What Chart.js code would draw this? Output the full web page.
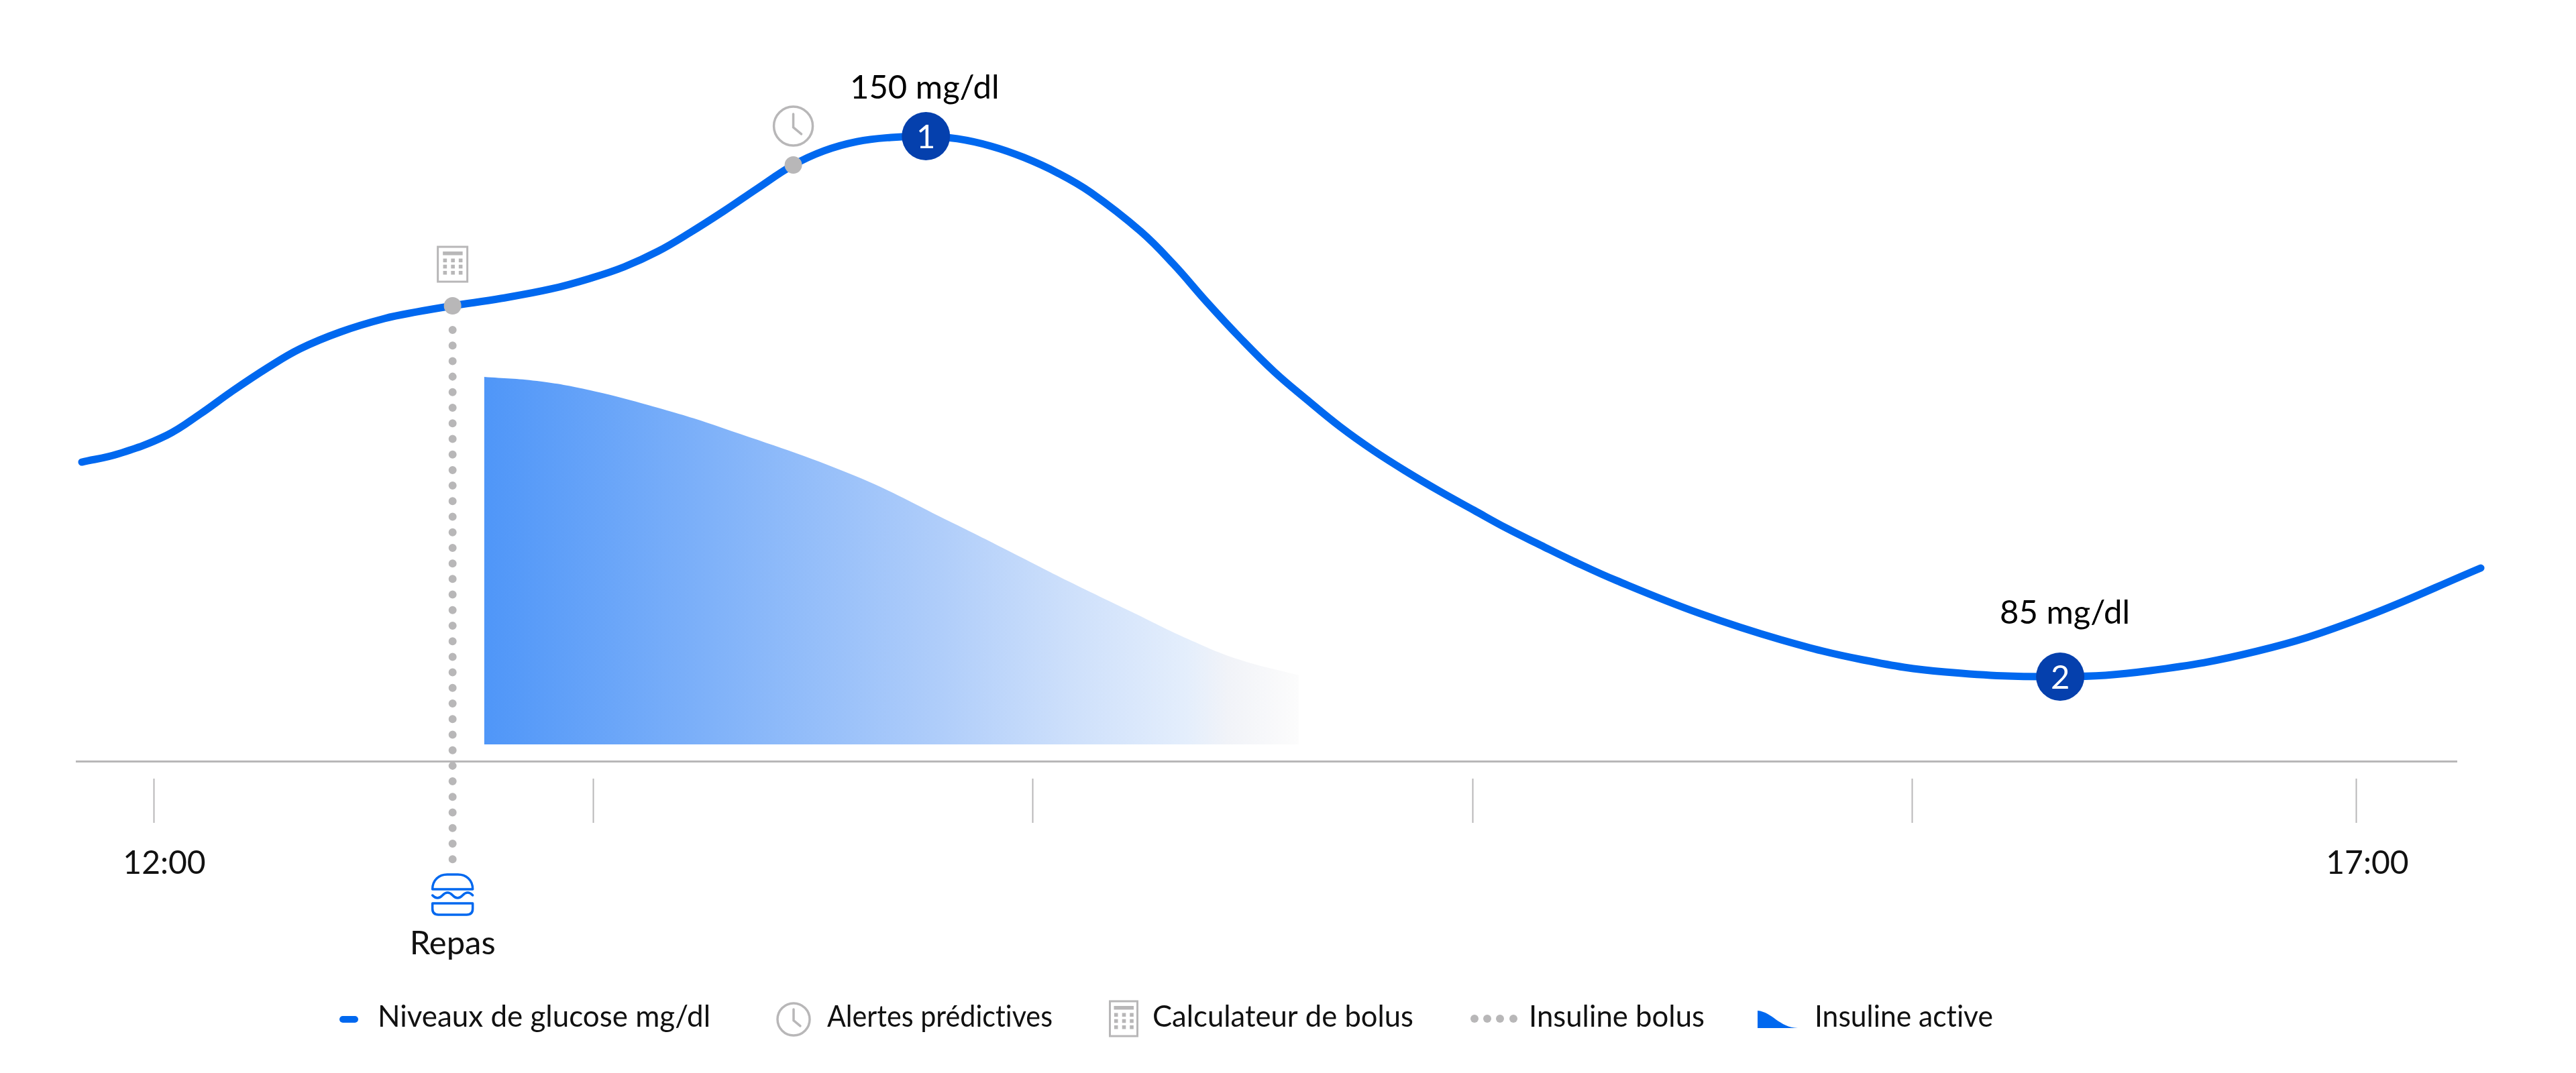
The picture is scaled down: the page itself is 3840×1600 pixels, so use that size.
<!DOCTYPE html>
<html lang="fr">
<head>
<meta charset="UTF-8">
<title>Niveaux de glucose</title>
<style>
    html, body { margin: 0; padding: 0; background: #fff; }
    canvas { display: block; }
</style>
<script src="https://cdn.jsdelivr.net/npm/chart.js"></script>
</head>
<body>
<canvas id="chart" width="3840" height="1600"></canvas>
<script>
// minutes depuis 12:00 / mg/dl
const glucoseTimes = [-9.8, -4.9, 1.8, 6.4, 10.5, 15.6, 20.0, 25.5, 31.5, 36.0, 40.8, 47.4, 54.2, 59.6, 64.2, 68.8, 73.2, 77.8, 82.4, 87.3, 91.5, 96.0, 100.6, 105.4, 109.7, 114.3, 118.8, 123.4, 127.9, 134.7, 139.2, 143.7, 148.3, 152.9, 157.4, 162.0, 166.5, 171.1, 175.6, 180.2, 184.7, 189.3, 193.8, 199.7, 210.8, 222.1, 233.3, 244.5, 260.2, 272.5, 287.1, 300.6, 317.6];
const glucoseValues = [110.80, 111.77, 114.03, 116.61, 119.19, 122.17, 124.43, 126.45, 128.06, 128.87, 129.59, 130.48, 131.61, 132.90, 134.27, 136.13, 138.39, 140.97, 143.71, 146.53, 148.24, 149.35, 149.84, 150, 149.68, 148.79, 147.42, 145.56, 143.22, 138.55, 134.59, 130.08, 125.72, 121.69, 118.30, 115.0, 112.17, 109.59, 107.25, 105.0, 102.82, 100.80, 98.87, 96.53, 92.66, 89.43, 87.01, 85.56, 85.00, 85.72, 88.06, 91.77, 98.06];

const insulinTimes = [45.1, 52.3, 59.6, 68.8, 77.6, 95.6, 109.1, 117.0, 124.9, 133.4, 141.2, 148.0, 156.3];
const insulinValues = [121.05, 120.56, 119.43, 117.33, 114.92, 109.19, 103.46, 99.98, 96.45, 92.82, 89.51, 87.09, 85.16];
const insulinBase = 76.85;

const bolusTimes = [40.8, 40.8];
const bolusValues = [126.69, 62.73];

const peakTimes = [105.4, 260.2];
const peakValues = [150, 85];
const peakNumbers = ['1', '2'];
const peakLabels = ['150 mg/dl', '85 mg/dl'];

const eventTimes = [40.8, 87.3];
const eventValues = [129.59, 146.53];

const tickMinutes = [0, 60, 120, 180, 240, 300.65];
const tickLabels = ['12:00', '', '', '', '', '17:00'];

const legendLabels = ['Niveaux de glucose mg/dl', 'Alertes prédictives', 'Calculateur de bolus', 'Insuline bolus', 'Insuline active'];
const mealLabel = 'Repas';

const BLUE = '#0068ef';
const NAVY = '#0540ad';
const GREY = '#b8b7b8';
const TEXT = '#111111';
const FONT = 'Lato';

const toPoints = (xs, ys) => xs.map((x, i) => ({ x: x, y: ys[i] }));

function drawClock(ctx, cx, cy, r) {
    const k = r / 29;
    ctx.save();
    ctx.strokeStyle = GREY;
    ctx.lineWidth = 3.5;
    ctx.lineCap = 'round';
    ctx.beginPath();
    ctx.arc(cx, cy, r, 0, Math.PI * 2);
    ctx.stroke();
    ctx.beginPath();
    ctx.moveTo(cx, cy - 18 * k);
    ctx.lineTo(cx, cy + 2 * k);
    ctx.lineTo(cx + 12 * k, cy + 12 * k);
    ctx.stroke();
    ctx.restore();
}

function drawCalculator(ctx, cx, cy, w, h) {
    ctx.save();
    ctx.strokeStyle = GREY;
    ctx.fillStyle = GREY;
    ctx.lineWidth = 3;
    ctx.strokeRect(cx - w / 2 + 1.5, cy - h / 2 + 1.5, w - 3, h - 3);
    ctx.fillRect(cx - 14.5, cy - 19, 29.5, 5.5);
    [-11.3, 0.5, 12].forEach(dx => {
        [-5.7, 3.5, 12.7].forEach(dy => {
            ctx.fillRect(cx + dx - 2.8, cy + dy - 2.8, 5.6, 5.6);
        });
    });
    ctx.restore();
}

function drawBurger(ctx, cx, cy) {
    ctx.save();
    ctx.strokeStyle = BLUE;
    ctx.lineWidth = 3.5;
    ctx.lineJoin = 'round';
    ctx.lineCap = 'round';
    // pain du haut
    ctx.beginPath();
    ctx.moveTo(cx - 30, cy - 8);
    ctx.lineTo(cx + 30, cy - 8);
    ctx.bezierCurveTo(cx + 30, cy - 22, cx + 20, cy - 30, cx + 8, cy - 30);
    ctx.lineTo(cx - 8, cy - 30);
    ctx.bezierCurveTo(cx - 20, cy - 30, cx - 30, cy - 22, cx - 30, cy - 8);
    ctx.closePath();
    ctx.stroke();
    // salade
    ctx.beginPath();
    ctx.moveTo(cx - 30, cy + 1);
    for (let i = 0; i < 4; i++) {
        const x0 = cx - 30 + i * 15;
        ctx.quadraticCurveTo(x0 + 7.5, cy + (i % 2 ? -7 : 9), x0 + 15, cy + 1);
    }
    ctx.stroke();
    // pain du bas
    ctx.beginPath();
    ctx.moveTo(cx - 30, cy + 13);
    ctx.lineTo(cx + 30, cy + 13);
    ctx.lineTo(cx + 30, cy + 21);
    ctx.quadraticCurveTo(cx + 30, cy + 30, cx + 21, cy + 30);
    ctx.lineTo(cx - 21, cy + 30);
    ctx.quadraticCurveTo(cx - 30, cy + 30, cx - 30, cy + 21);
    ctx.closePath();
    ctx.stroke();
    ctx.restore();
}

function drawLegend(ctx) {
    const y = 1519;
    ctx.save();
    // trait glucose
    ctx.strokeStyle = BLUE;
    ctx.lineWidth = 10;
    ctx.lineCap = 'round';
    ctx.beginPath();
    ctx.moveTo(511, y + 1);
    ctx.lineTo(529, y + 1);
    ctx.stroke();
    drawClock(ctx, 1183, y + 1, 24);
    drawCalculator(ctx, 1675, y, 44, 55);
    // points bolus
    ctx.fillStyle = GREY;
    [2198, 2217, 2236, 2256].forEach(x => {
        ctx.beginPath();
        ctx.arc(x, y, 6, 0, Math.PI * 2);
        ctx.fill();
    });
    // aire insuline
    ctx.fillStyle = BLUE;
    ctx.beginPath();
    ctx.moveTo(2620, 1507);
    ctx.bezierCurveTo(2642, 1509, 2652, 1532, 2680, 1533);
    ctx.lineTo(2620, 1533);
    ctx.closePath();
    ctx.fill();
    ctx.font = '44px ' + FONT;
    ctx.letterSpacing = '0.01px';
    ctx.fillStyle = TEXT;
    ctx.textAlign = 'left';
    ctx.textBaseline = 'middle';
    const legendStarts = [563, 1233, 1718, 2279, 2705];
    const legendWidths = [496, 336, 389, 262, 266];
    legendLabels.forEach((label, i) => ctx.fillText(label, legendStarts[i], y - 2, legendWidths[i]));
    ctx.restore();
}

const annotations = {
    id: 'annotations',
    afterDatasetsDraw(chart) {
        const ctx = chart.ctx;
        const x = chart.scales.x;
        const y = chart.scales.y;
        // icônes au-dessus des points gris
        drawCalculator(ctx, x.getPixelForValue(eventTimes[0]), y.getPixelForValue(134.59), 47, 55);
        drawClock(ctx, x.getPixelForValue(eventTimes[1]), y.getPixelForValue(151.21), 29);
        // repas
        const mealX = x.getPixelForValue(bolusTimes[0]);
        drawBurger(ctx, mealX, y.getPixelForValue(58.78));
        ctx.save();
        ctx.textAlign = 'center';
        ctx.textBaseline = 'middle';
        ctx.font = '49px ' + FONT;
        ctx.fillStyle = TEXT;
        ctx.fillText(mealLabel, mealX, y.getPixelForValue(52.9));
        // pics
        const labelOffsets = [[-2, -72], [7, -95]];
        peakTimes.forEach((t, i) => {
            const px = x.getPixelForValue(t);
            const py = y.getPixelForValue(peakValues[i]);
            ctx.fillStyle = '#000';
            ctx.fillText(peakLabels[i], px + labelOffsets[i][0], py + labelOffsets[i][1]);
            ctx.fillStyle = '#fff';
            ctx.fillText(peakNumbers[i], px, py + 2);
        });
        ctx.restore();
        drawLegend(ctx);
    }
};

new Chart(document.getElementById('chart'), {
    type: 'line',
    data: {
        datasets: [
            {
                label: 'Pics',
                data: toPoints(peakTimes, peakValues),
                showLine: false,
                pointRadius: 36,
                pointBackgroundColor: NAVY,
                pointBorderWidth: 0,
                order: 0
            },
            {
                label: 'Evenements',
                data: toPoints(eventTimes, eventValues),
                showLine: false,
                pointRadius: 13,
                pointBackgroundColor: GREY,
                pointBorderWidth: 0,
                order: 1
            },
            {
                label: legendLabels[0],
                data: toPoints(glucoseTimes, glucoseValues),
                borderColor: BLUE,
                borderWidth: 11,
                borderCapStyle: 'round',
                tension: 0.4,
                capBezierPoints: false,
                pointRadius: 0,
                clip: false,
                order: 2
            },
            {
                label: legendLabels[3],
                data: toPoints(bolusTimes, bolusValues),
                borderColor: GREY,
                borderWidth: 12,
                borderCapStyle: 'round',
                borderDash: [0.01, 23.2],
                pointRadius: 0,
                clip: false,
                order: 3
            },
            {
                label: legendLabels[4],
                data: toPoints(insulinTimes, insulinValues),
                borderWidth: 0,
                tension: 0.4,
                pointRadius: 0,
                fill: { value: insulinBase },
                backgroundColor(context) {
                    const chart = context.chart;
                    if (!chart.chartArea) return '#4f96f8';
                    const x = chart.scales.x;
                    const g = chart.ctx.createLinearGradient(
                        x.getPixelForValue(insulinTimes[0]), 0,
                        x.getPixelForValue(insulinTimes[insulinTimes.length - 1]), 0);
                    g.addColorStop(0, '#4f96f8');
                    g.addColorStop(0.558, '#afcdfa');
                    g.addColorStop(0.723, '#cee0fb');
                    g.addColorStop(0.863, '#e4eefc');
                    g.addColorStop(0.913, '#f1f3f8');
                    g.addColorStop(1, '#fcfcfc');
                    return g;
                },
                order: 4
            }
        ]
    },
    options: {
        responsive: false,
        devicePixelRatio: 1,
        animation: false,
        layout: { autoPadding: false, padding: { left: 114, right: 178, top: 0, bottom: 0 } },
        plugins: { legend: { display: false }, tooltip: { enabled: false } },
        scales: {
            x: {
                type: 'linear',
                min: -10.53,
                max: 314.3,
                afterFit(scale) { scale.height = 465; },
                afterBuildTicks(scale) { scale.ticks = tickMinutes.map(v => ({ value: v })); },
                border: { display: true, color: GREY, width: 3 },
                grid: {
                    drawOnChartArea: false,
                    drawTicks: true,
                    tickLength: 92,
                    tickWidth: 2,
                    tickColor: GREY,
                    tickBorderDash: [68, 2000],
                    tickBorderDashOffset: -24
                },
                ticks: {
                    autoSkip: false,
                    maxRotation: 0,
                    padding: 32,
                    labelOffset: 16,
                    color: TEXT,
                    font: { family: FONT, size: 48 },
                    callback: (value, i) => tickLabels[i]
                }
            },
            y: {
                display: false,
                min: 74.83,
                max: 166.37
            }
        }
    },
    plugins: [annotations]
});
</script>
</body>
</html>
